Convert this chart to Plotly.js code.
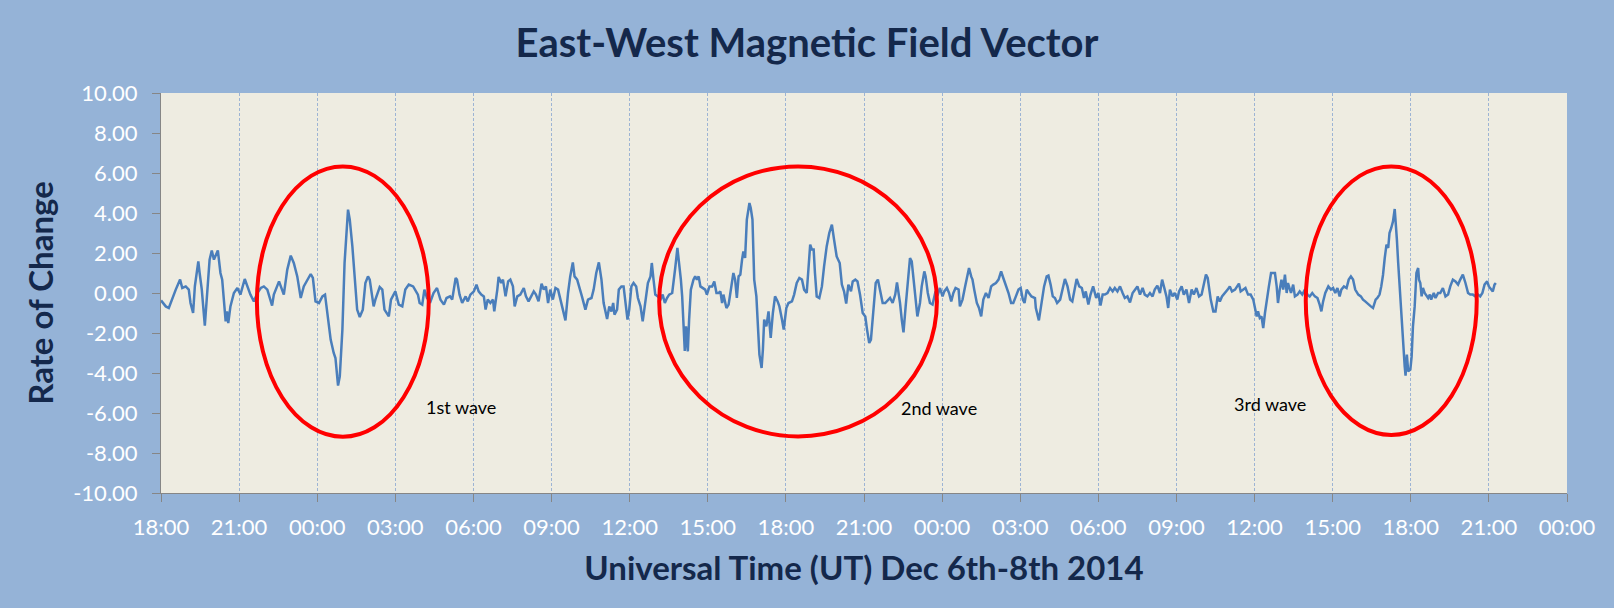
<!DOCTYPE html>
<html>
<head>
<meta charset="utf-8">
<script src="https://cdn.plot.ly/plotly-3.0.1.min.js"></script>
<style>html,body{margin:0;padding:0;background:#95B3D7;}#chart{width:1614px;height:608px;}</style>
</head>
<body>
<div id="chart"></div>
<script>
// Minutes after 2014-12-06 18:00 UT
const minutes = [0,11,18,26,34,44,49,57,64,68,74,78,86,89,94,101,107,112,117,122,131,137,141,149,152,155,160,168,176,183,193,199,206,214,222,230,237,245,256,260,272,283,291,299,306,314,322,329,345,350,356,364,372,378,383,391,
398,402,408,412,418,423,431,435,441,446,452,458,465,471,477,481,487,490,494,504,510,515,525,530,540,548,556,563,571,581,592,596,602,607,613,621,628,636,644,652,658,666,671,679,682,688,694,702,707,713,721,727,732,738,744,748,753,759,765,768,775,778,784,788,794,797,
800,805,811,815,821,828,836,841,847,859,864,870,877,882,887,892,897,903,909,915,920,926,932,938,943,949,953,959,964,970,978,984,992,997,1003,1009,1015,1020,1028,1033,1038,1042,1045,1051,1055,1061,1066,1072,1075,1079,1084,1089,1095,1099,1105,1110,1116,1122,1128,1131,1135,1139,1145,1151,1156,1161,1166,1171,1178,1181,1185,1190,1194,1198,1201,1204,1207,
1210,1214,1217,1221,1227,1231,1235,1239,1243,1249,1254,1258,1264,1270,1275,1280,1285,1289,1293,1296,1303,1308,1312,1316,1319,1323,1327,1331,1335,1339,1342,1346,1350,1356,1359,1363,1367,1372,1375,1379,1384,1387,1390,1395,1400,1405,1410,1415,1421,1425,1431,1435,1441,1446,1454,1459,1465,1471,1477,1482,1488,1492,1496,1500,1504,1507,1511,1517,1523,1528,1534,1540,1546,1551,1557,1564,1569,1574,1579,1584,1590,1594,1600,1605,1611,
1617,1623,1627,1632,1636,1642,1647,1652,1657,1663,1669,1675,1680,1686,1692,1696,1699,1703,1707,1711,1716,1721,1726,1730,1734,1738,1743,1749,1753,1759,1762,1767,1772,1778,1784,1790,1795,1801,1805,1811,1816,1821,1826,1831,1838,1841,1847,1853,1859,1862,1867,1870,1874,1880,1885,1890,1895,1901,1907,1913,1918,1924,1930,1936,1941,1947,1953,1959,1964,1970,1976,1981,1986,1990,1995,2000,2006,2014,
2016,2023,2029,2035,2041,2045,2050,2055,2060,2065,2072,2078,2083,2089,2095,2100,2106,2110,2116,2122,2127,2131,2137,2142,2148,2155,2160,2165,2170,2175,2181,2187,2193,2198,2204,2210,2216,2221,2227,2233,2239,2244,2250,2256,2262,2267,2273,2279,2285,2290,2296,2302,2307,2313,2317,2321,2325,2331,2336,2342,2346,2352,2357,2363,2369,2375,2380,2386,2392,2398,2403,2408,2412,2417,
2419,2425,2430,2435,2440,2445,2452,2458,2463,2468,2475,2484,2488,2494,2499,2505,2511,2517,2521,2525,2528,2532,2536,2540,2544,2548,2553,2558,2563,2567,2571,2574,2578,2582,2586,2590,2594,2597,2604,2609,2613,2619,2624,2630,2636,2642,2647,2653,2659,2665,2670,2674,2678,2683,2690,2696,2701,2706,2711,2716,2720,2726,2732,2737,2742,2747,2752,2759,2765,2770,2775,2782,2788,2793,2799,2803,2808,2812,2816,2820,
2824,2828,2831,2835,2839,2843,2845,2848,2851,2855,2858,2862,2866,2868,2871,2874,2879,2882,2885,2889,2893,2897,2899,2902,2905,2908,2912,2920,2924,2927,2933,2937,2943,2948,2954,2960,2966,2971,2977,2983,2989,2994,3000,3006,3012,3017,3023,3029,3035,3040,3045,3050,3056,3060,3066,3069,3073,3076];

const rate = [-0.37,-0.67,-0.75,-0.25,0.17,0.67,0.25,0.33,0.17,-0.5,-1.0,0.33,1.58,1.0,0.17,-1.63,0.17,1.67,2.12,1.67,2.13,1.0,0.67,-1.42,-0.92,-1.5,-0.67,0,0.25,-0.08,0.7,0.33,-0.08,-0.42,0,0.25,0.33,0.17,-0.63,-0.08,0.58,-0.08,1.17,1.87,1.5,0.83,-0.25,0.33,0.95,0.75,-0.42,-0.5,-0.17,-0.08,-1.0,-2.33,
-3.0,-3.25,-4.63,-4.17,-1.83,1.5,4.17,3.67,2.33,0.67,-0.83,-1.2,-0.83,0.5,0.83,0.67,-0.25,-0.67,-0.33,0.3,0.17,-0.83,-1.17,-0.33,0.08,-0.58,-0.67,0.17,0.42,0.33,-0.08,-0.5,-0.58,0.17,-0.25,-0.42,0,0.25,-0.33,-0.58,-0.25,-0.17,-0.33,0.75,0.67,-0.08,-0.5,-0.17,-0.42,-0.08,0.08,0.42,0.08,-0.08,-0.17,-0.83,-0.33,-0.5,-0.33,-0.92,0.17,0.8,0.5,0.67,-0.17,0.33,
0.58,0.67,0.33,-0.67,-0.17,-0.08,0.25,-0.17,-0.42,0.08,-0.08,-0.42,0.47,0.17,0.33,-0.5,0.17,-0.33,0.25,0.17,-0.25,-0.75,-1.37,0,0.83,1.53,0.83,0.67,0.33,-0.17,-0.83,-0.33,-0.25,0.17,1.0,1.53,0.67,-0.5,-1.3,-0.67,-0.92,-0.5,-1.08,-0.83,0.17,0.33,0.33,-0.83,-1.33,-0.83,0.33,0.5,0.33,-0.25,-0.67,-1.42,-0.5,0.5,0.83,1.5,0.67,-0.08,-0.17,-0.33,-0.08,-0.5,-0.25,-0.08,0,0.67,1.25,2.25,1.5,0.67,-0.17,-1.67,-2.9,
-1.67,-2.92,-1.33,0.17,0.67,0.83,0.67,0.83,0.33,0.25,0.17,-0.08,0.33,0.33,0.58,0,0,0.08,-0.5,-0.08,-0.75,-0.58,-0.08,0.42,1.0,0.67,-0.25,0.83,0.92,1.67,2.08,1.75,3.67,4.5,4.25,3.67,0.67,-0.17,-1.17,-3.08,-3.75,-2.83,-1.33,-1.67,-0.92,-2.25,-1.0,-0.17,-0.42,-0.67,-1.33,-1.83,-0.75,-0.5,-0.42,-0.08,0.5,0.75,0.67,0.17,0,1.33,2.42,2.17,2.17,1.0,-0.17,-0.25,0.33,1.33,2.33,3.0,3.42,2.67,1.83,1.5,0.42,0.08,-0.53,0.42,0.08,0.58,0.67,0.58,-0.1,
-1.0,-1.17,-1.83,-2.5,-2.33,-0.67,0.5,0.67,0.17,-0.5,-0.5,-0.33,-0.25,-0.5,-0.08,0.53,0.17,-0.5,-1.33,-1.97,-0.67,0.67,1.75,1.58,0.83,-0.17,-1.17,-0.5,0.33,1.08,0.83,0,-0.5,-0.58,0,-0.08,0.25,-0.17,0.08,0.25,0,-0.42,0,0.25,0.17,-0.67,-0.33,0.33,1.08,1.25,0.83,0.67,0.17,-0.5,-0.75,-1.17,-0.33,0,-0.25,0.33,0.42,0.5,0.67,1.08,0.75,0.42,0,-0.5,-0.5,-0.17,0.17,0.25,-0.33,-0.5,0.17,0,-0.17,-0.25,
-0.75,-1.37,-0.58,0.33,0.83,0.87,0.42,-0.17,-0.25,-0.5,-0.33,0.17,0.7,0.33,-0.33,-0.42,0.17,0.7,0.33,0.25,-0.25,0.08,-0.58,-0.08,0.33,-0.25,0,-0.63,-0.08,-0.08,0,0.25,0.08,0.25,0.08,0.33,0,-0.25,-0.17,-0.47,0,0.17,0.33,-0.08,0.25,-0.08,-0.17,0,-0.17,0.17,0.37,0,0.67,0.17,-0.17,-0.75,0.17,-0.17,0,-0.33,0.08,0.33,-0.08,0.17,-0.5,0.17,-0.08,0.25,-0.17,-0.08,0.5,0.92,0.75,-0.1,
-0.33,-0.92,-0.92,-0.17,-0.42,-0.17,0,0.17,0.33,0.08,0.17,0.47,0.08,0.17,0.25,-0.08,-0.08,-0.33,-0.75,-1.17,-0.92,-1.25,-1.17,-1.75,-1.0,-0.5,0.33,1.0,1.0,1.0,0.33,-0.5,0.17,0.67,0.17,0.92,0,0.5,0,0.42,-0.17,-0.08,0.08,-0.08,0.17,-0.08,-0.17,0,-0.17,-0.25,-0.58,-0.92,-0.42,0,0.33,0.17,0.25,0,0.25,-0.17,0.17,0.33,0.25,0.67,0.83,0.67,0.17,-0.08,-0.17,-0.33,-0.42,-0.58,-0.67,-0.75,-0.33,-0.25,-0.08,0.33,0.9,1.75,
2.42,2.25,3.0,3.25,3.58,4.2,3.67,2.67,1.5,0,-1.17,-2.33,-3.67,-4.13,-3.08,-3.92,-3.83,-3.17,-1.67,-0.67,1.0,1.25,0.67,0.5,-0.17,0.25,0,-0.25,-0.08,-0.33,0,-0.25,0,0,0.25,-0.17,-0.08,0.33,0.67,0.58,0.42,0.67,0.92,0.5,0,-0.08,-0.08,-0.17,-0.08,-0.17,0,0.42,0.58,0.33,0.17,0.08,0.42,0.5];

// Tick labels (every 3 hours) and axis span, minutes after start
const tickMinutes = [0,180,360,540,720,900,1080,1260,1440,1620,1800,1980,2160,2340,2520,2700,2880,3060,3240];
const tickLabels = ['18:00','21:00','00:00','03:00','06:00','09:00','12:00','15:00','18:00','21:00','00:00','03:00','06:00','09:00','12:00','15:00','18:00','21:00','00:00'];
const yTicks = [10,8,6,4,2,0,-2,-4,-6,-8,-10];

// Highlighted waves (minutes after start / value extents)
const waveNames = ['1st wave','2nd wave','3rd wave'];
const waveStart = [221,1148,2638];
const waveEnd = [617,1788,3032];
const waveLow = [-7.19,-7.17,-7.1];
const waveHigh = [6.33,6.33,6.33];
const labelMinute = [692,1793,2555];
const labelValue = [-5.72,-5.77,-5.56];

const base = Date.UTC(2014, 11, 6, 18, 0);
function stamp(m) {
  return new Date(base + m * 60000).toISOString().slice(0, 19).replace('T', ' ');
}

const navy = '#14284B';
const trace = {
  x: minutes.map(stamp),
  y: rate,
  type: 'scatter',
  mode: 'lines',
  line: {color: '#4A7EBB', width: 2.5},
  hoverinfo: 'x+y'
};

const shapes = waveStart.map((s, i) => ({
  type: 'circle', xref: 'x', yref: 'y',
  x0: stamp(s), x1: stamp(waveEnd[i]), y0: waveLow[i], y1: waveHigh[i],
  line: {color: '#FF0000', width: 4}
}));

const annotations = waveNames.map((n, i) => ({
  x: stamp(labelMinute[i]), y: labelValue[i], xref: 'x', yref: 'y',
  text: n, showarrow: false, font: {family: 'Lato, sans-serif', size: 18, color: '#000000'}
}));

const layout = {
  width: 1614, height: 608,
  paper_bgcolor: '#95B3D7',
  plot_bgcolor: '#EEECE1',
  margin: {l: 161, r: 47, t: 93, b: 115, pad: 0},
  showlegend: false,
  title: {text: 'East-West Magnetic Field Vector', x: 0.5, xref: 'container', xanchor: 'center', y: 1 - 43/608, yref: 'container', yanchor: 'middle',
          font: {family: 'Lato, sans-serif', size: 40, color: navy, weight: 'bold'}},
  xaxis: {
    type: 'date',
    range: [stamp(tickMinutes[0]), stamp(tickMinutes[tickMinutes.length - 1])],
    tickmode: 'array', tickvals: tickMinutes.map(stamp), ticktext: tickLabels,
    showgrid: true, gridcolor: '#9DB4D4', griddash: '3px,2px', gridwidth: 1,
    showline: true, linecolor: '#868686', linewidth: 1,
    ticks: 'outside', ticklen: 8, tickcolor: '#868686',
    ticklabelstandoff: 7,
    tickfont: {family: 'Lato, sans-serif', size: 22, color: '#FFFFFF'},
    zeroline: false,
    title: {text: 'Universal Time (UT) Dec 6th-8th 2014', standoff: 17,
            font: {family: 'Lato, sans-serif', size: 33, color: navy, weight: 'bold'}}
  },
  yaxis: {
    range: [-10, 10],
    tickmode: 'array', tickvals: yTicks, ticktext: yTicks.map(v => v.toFixed(2)),
    showgrid: false, zeroline: false,
    showline: true, linecolor: '#868686', linewidth: 1,
    ticks: 'outside', ticklen: 8, tickcolor: '#868686',
    ticklabelstandoff: 10,
    tickfont: {family: 'Lato, sans-serif', size: 22, color: '#FFFFFF'},
    title: {text: 'Rate of Change', standoff: 9,
            font: {family: 'Lato, sans-serif', size: 33, color: navy, weight: 'bold'}}
  },
  shapes: shapes,
  annotations: annotations
};

Plotly.newPlot('chart', [trace], layout, {displayModeBar: false, staticPlot: true});
</script>
</body>
</html>
